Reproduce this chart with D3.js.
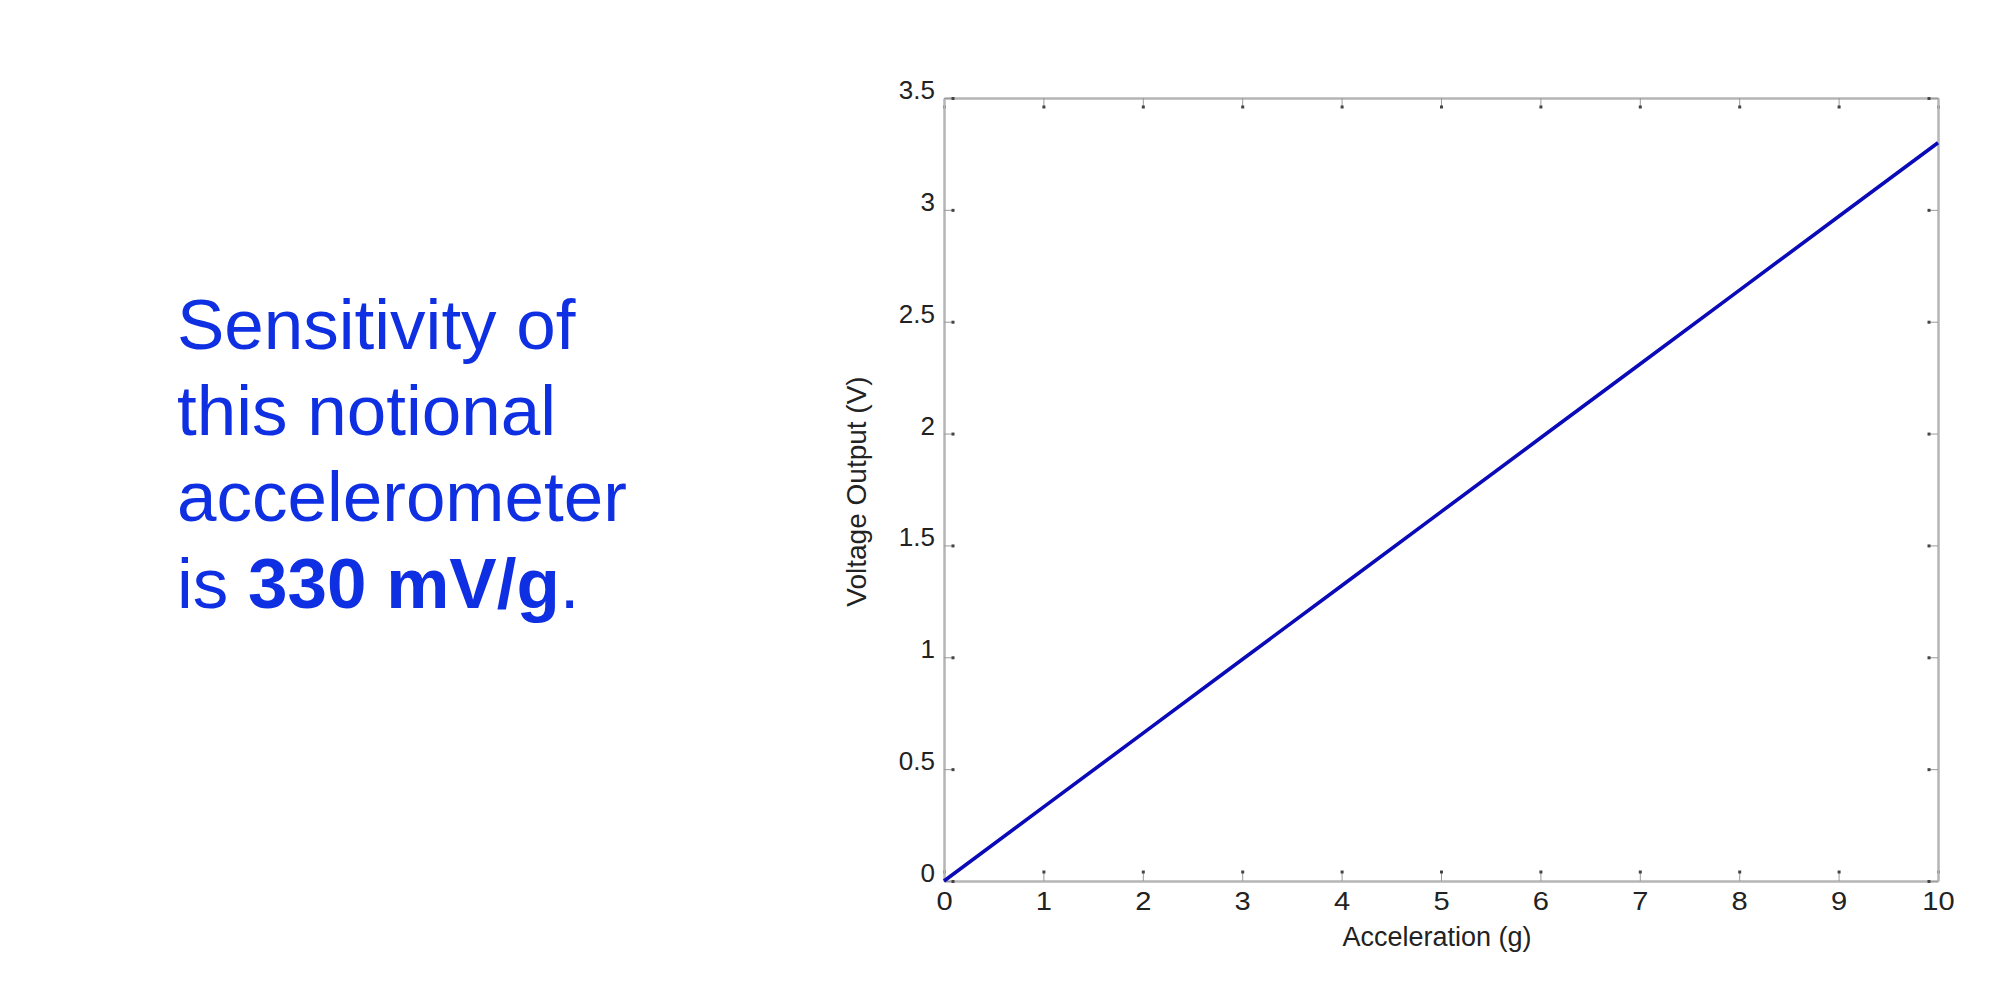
<!DOCTYPE html>
<html lang="en">
    <head>
        <meta charset="utf-8">
        <style>
        body { margin: 0; background: white; }
        .tick text { font-family: Helvetica, Arial, "Liberation Sans", sans-serif; fill: #222; }
        </style>
        <script src="https://d3js.org/d3.v7.min.js"></script>
    </head>
    <body>
    <script>
    var width = 2000,
        height = 982;

    // data
    var accel = [0, 1, 2, 3, 4, 5, 6, 7, 8, 9, 10];
    var volts = [0, 0.33, 0.66, 0.99, 1.32, 1.65, 1.98, 2.31, 2.64, 2.97, 3.3];
    var xTicks = [0, 1, 2, 3, 4, 5, 6, 7, 8, 9, 10];
    var yTicks = [0, 0.5, 1, 1.5, 2, 2.5, 3, 3.5];
    var noteLines = ["Sensitivity of", "this notional", "accelerometer"];

    var margin = {left: 944, top: 98, right: 62, bottom: 101};

    var svg = d3.select("body").append("svg")
        .attr("width", width)
        .attr("height", height);

    // left side text
    var note = svg.append("text")
        .attr("x", 177)
        .attr("y", 349)
        .attr("fill", "#0f2fe2")
        .style("font-family", "Helvetica, Arial, 'Liberation Sans', sans-serif")
        .style("font-size", "71px");

    noteLines.forEach(function(t, i) {
        note.append("tspan")
            .attr("x", 177)
            .attr("dy", i == 0 ? 0 : 86)
            .text(t);
    });
    var last = note.append("tspan").attr("x", 177).attr("dy", 87);
    last.text("is ");
    note.append("tspan").attr("font-weight", "bold").text("330 mV/g");
    note.append("tspan").text(".");

    var x = d3.scaleLinear()
        .domain([0, 10])
        .range([margin.left, width - margin.right]);

    var y = d3.scaleLinear()
        .domain([0, 3.5])
        .range([height - margin.bottom, margin.top]);

    var g = svg.append("g");

    function styleAxis(sel, dx, dy) {
        sel.select(".domain")
            .attr("stroke", "#b5b5b5")
            .attr("stroke-width", 2.5);
        sel.selectAll(".tick line")
            .attr("stroke", "#9a9a9a")
            .attr("stroke-width", 1);
        sel.selectAll(".tick").append("rect")
            .attr("x", dx - 1.5)
            .attr("y", dy - 1.5)
            .attr("width", 3)
            .attr("height", 3)
            .attr("fill", "#444");
    }

    var xb = g.append("g")
        .attr("transform", "translate(0," + y(0) + ")")
        .call(d3.axisBottom(x).tickValues(xTicks).tickSizeInner(-10).tickSizeOuter(0).tickPadding(11));
    styleAxis(xb, 0, -9);
    xb.selectAll(".tick text").style("font-size", "26px").attr("transform", "scale(1.12,1)");

    var xt = g.append("g")
        .attr("transform", "translate(0," + y(3.5) + ")")
        .call(d3.axisTop(x).tickValues(xTicks).tickSizeInner(-10).tickSizeOuter(0).tickFormat(""));
    styleAxis(xt, 0, 9);

    var yl = g.append("g")
        .attr("transform", "translate(" + x(0) + ",0)")
        .call(d3.axisLeft(y).tickValues(yTicks).tickSizeInner(-10).tickSizeOuter(0).tickPadding(9)
            .tickFormat(d3.format("~g")));
    styleAxis(yl, 9, 0);
    yl.selectAll(".tick text")
        .style("font-size", "26px")
        .attr("dy", "0.02em");

    var yr = g.append("g")
        .attr("transform", "translate(" + x(10) + ",0)")
        .call(d3.axisRight(y).tickValues(yTicks).tickSizeInner(-10).tickSizeOuter(0).tickFormat(""));
    styleAxis(yr, -9, 0);

    // axis titles
    g.append("text")
        .attr("x", (x(0) + x(10)) / 2 - 4)
        .attr("y", 946)
        .attr("text-anchor", "middle")
        .attr("fill", "#222")
        .style("font-family", "Helvetica, Arial, 'Liberation Sans', sans-serif")
        .style("font-size", "27px")
        .text("Acceleration (g)");

    g.append("text")
        .attr("transform", "translate(866," + ((y(0) + y(3.5)) / 2 + 2) + ") rotate(-90)")
        .attr("text-anchor", "middle")
        .attr("fill", "#222")
        .style("font-family", "Helvetica, Arial, 'Liberation Sans', sans-serif")
        .style("font-size", "28px")
        .text("Voltage Output (V)");

    var line = d3.line()
        .x(function(d, i) { return x(accel[i]); })
        .y(function(d) { return y(d); });

    g.append("path")
        .datum(volts)
        .attr("d", line)
        .attr("fill", "none")
        .attr("stroke", "#0a0ab8")
        .attr("stroke-width", 3.6);
    </script>
    </body>
</html>
